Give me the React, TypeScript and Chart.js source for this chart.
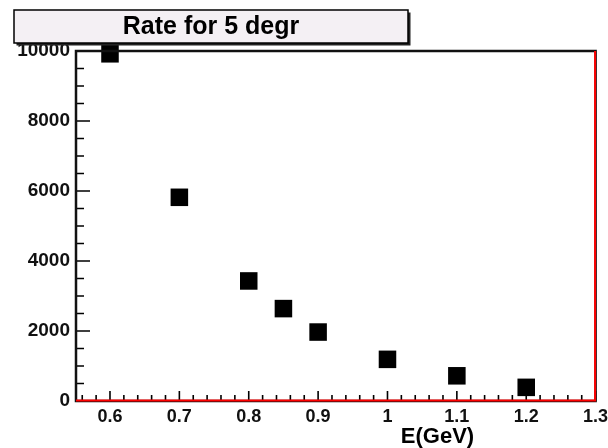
import React, { useEffect, useRef } from "react";
import { Chart, registerables } from "chart.js";

Chart.register(...registerables);

const energyValues = [0.6, 0.7, 0.8, 0.85, 0.9, 1.0, 1.1, 1.2];
const rateValues = [9920, 5820, 3430, 2640, 1970, 1190, 720, 390];
const xTickValues = [0.6, 0.7, 0.8, 0.9, 1.0, 1.1, 1.2, 1.3];
const yTickValues = [0, 2000, 4000, 6000, 8000, 10000];
const chartTitle = "Rate for 5 degr";
const xAxisTitle = "E(GeV)";

const X_MIN = 0.551;
const X_MAX = 1.3;
const Y_MIN = 0;
const Y_MAX = 10000;
const X_MINOR = 0.02;
const Y_MINOR = 500;

const FONT = '"Liberation Sans", Arial, Helvetica, sans-serif';

const rootStyle = {
  id: "rootStyle",
  afterDraw(chart: any) {
    const ctx = chart.ctx;
    const a = chart.chartArea;
    const xs = chart.scales.x;
    const ys = chart.scales.y;
    ctx.save();

    // ticks
    ctx.strokeStyle = "#000";
    ctx.lineWidth = 1.6;
    ctx.beginPath();
    const nx = Math.round((X_MAX - 0.54) / X_MINOR);
    for (let i = 0; i <= nx; i++) {
      const v = 0.54 + i * X_MINOR;
      if (v < X_MIN - 1e-9 || v > X_MAX + 1e-9) continue;
      const px = xs.getPixelForValue(v);
      const major = Math.abs(v * 10 - Math.round(v * 10)) < 1e-6;
      const len = major ? 10 : 6;
      ctx.moveTo(px, a.bottom);
      ctx.lineTo(px, a.bottom - len);
    }
    const ny = Math.round((Y_MAX - Y_MIN) / Y_MINOR);
    for (let i = 0; i <= ny; i++) {
      const v = Y_MIN + i * Y_MINOR;
      const py = ys.getPixelForValue(v);
      const major = v % 2000 === 0;
      const len = major ? 14 : 8;
      ctx.moveTo(a.left, py);
      ctx.lineTo(a.left + len, py);
    }
    ctx.stroke();

    // frame
    ctx.lineWidth = 2.5;
    ctx.strokeStyle = "#111";
    ctx.strokeRect(a.left, a.top, a.right - a.left, a.bottom - a.top);

    // red histogram outline (bottom and right)
    ctx.strokeStyle = "#ff0000";
    ctx.lineWidth = 2;
    ctx.beginPath();
    ctx.moveTo(a.left, a.bottom - 0.5);
    ctx.lineTo(a.right - 0.5, a.bottom - 0.5);
    ctx.lineTo(a.right - 0.5, a.top);
    ctx.stroke();

    // title box with shadow
    const bx = 14, by = 10, bw = 394, bh = 33;
    ctx.fillStyle = "#222";
    ctx.fillRect(bx + 2.5, by + 2.5, bw, bh);
    ctx.fillStyle = "#f4f0f4";
    ctx.fillRect(bx, by, bw, bh);
    ctx.strokeStyle = "#000";
    ctx.lineWidth = 1.5;
    ctx.strokeRect(bx, by, bw, bh);
    ctx.fillStyle = "#000";
    ctx.font = `bold 25px ${FONT}`;
    ctx.textAlign = "center";
    ctx.textBaseline = "middle";
    ctx.fillText(chartTitle, bx + bw / 2, by + bh / 2 + 1);

    // x-axis title
    ctx.font = `bold 22px ${FONT}`;
    ctx.textAlign = "right";
    ctx.textBaseline = "alphabetic";
    ctx.fillText(xAxisTitle, xs.getPixelForValue(1.125), 443);

    ctx.restore();
  },
};

export default function App() {
  const ref = useRef<HTMLCanvasElement | null>(null);
  useEffect(() => {
    if (!ref.current) return;
    const chart = new Chart(ref.current, {
      type: "scatter",
      data: {
        datasets: [
          {
            data: energyValues.map((x, i) => ({ x, y: rateValues[i] })),
            pointStyle: "rect",
            pointRadius: 12.4,
            pointHoverRadius: 12.4,
            pointBorderWidth: 0,
            backgroundColor: "#000",
            borderColor: "#000",
            clip: false,
          } as any,
        ],
      },
      options: {
        animation: false,
        responsive: false,
        maintainAspectRatio: false,
        layout: { padding: { top: 51, right: 11, left: 0, bottom: 0 } },
        plugins: {
          legend: { display: false },
          tooltip: { enabled: false },
          title: { display: false },
        },
        scales: {
          x: {
            type: "linear",
            min: X_MIN,
            max: X_MAX,
            grid: { display: false, drawTicks: false },
            border: { display: false },
            afterBuildTicks: (s: any) => {
              s.ticks = xTickValues.map((v) => ({ value: v }));
            },
            afterFit: (s: any) => {
              s.height = 47;
              s.paddingLeft = 0;
              s.paddingRight = 0;
            },
            ticks: {
              autoSkip: false,
              maxRotation: 0,
              padding: 5,
              color: "#111",
              font: { family: FONT, size: 18, weight: "bold" },
              callback: (v: any) => String(Math.round(Number(v) * 10) / 10),
            },
          },
          y: {
            type: "linear",
            min: Y_MIN,
            max: Y_MAX,
            grid: { display: false, drawTicks: false },
            border: { display: false },
            afterBuildTicks: (s: any) => {
              s.ticks = yTickValues.map((v) => ({ value: v }));
            },
            afterFit: (s: any) => {
              s.width = 76;
              s.paddingTop = 0;
              s.paddingBottom = 0;
            },
            ticks: {
              autoSkip: false,
              padding: 6,
              color: "#111",
              font: { family: FONT, size: 19, weight: "bold" },
              callback: (v: any) => String(v),
            },
          },
        },
      },
      plugins: [rootStyle],
    });
    return () => chart.destroy();
  }, []);
  return (
    <div style={{ position: "fixed", left: 0, top: 0, width: 608, height: 448, background: "#fff" }}>
      <canvas ref={ref} width={608} height={448} />
    </div>
  );
}
